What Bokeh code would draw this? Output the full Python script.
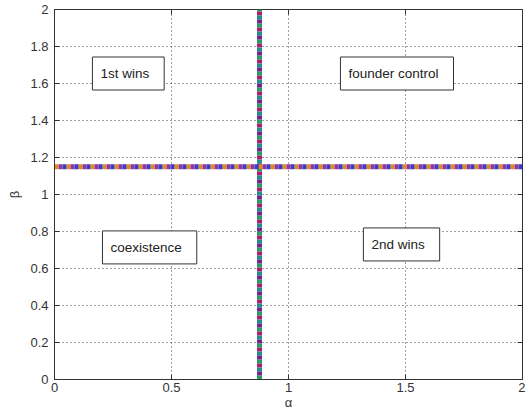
import math
from bokeh.plotting import figure
from bokeh.models import Range1d, FixedTicker, Label
from bokeh.embed import file_html
from bokeh.resources import INLINE

# ---- data ----
alpha_crit = [0.876, 0.876]
beta_span = [0, 2]
beta_crit = [1.15, 1.15]
alpha_span = [0, 2]

x_ticks = [0, 0.5, 1, 1.5, 2]
x_tick_labels = ["0", "0.5", "1", "1.5", "2"]
y_ticks = [0, 0.2, 0.4, 0.6, 0.8, 1.0, 1.2, 1.4, 1.6, 1.8, 2.0]
y_tick_labels = ["0", "0.2", "0.4", "0.6", "0.8", "1", "1.2", "1.4", "1.6", "1.8", "2"]

region_names = ["1st wins", "founder control", "coexistence", "2nd wins"]
region_x = [0.162, 1.222, 0.205, 1.32]
region_y = [1.654, 1.654, 0.714, 0.730]

vert_colors = ["#23a05a", "#b01c6e", "#20908c", "#6a2a8a"]
horiz_colors = ["#e08a20", "#3a3ac8", "#8a3aa0"]

FONT = "Liberation Sans"
AX = "#333333"

p = figure(width=525, height=420, output_backend="svg", toolbar_location=None,
           x_range=Range1d(0, 2), y_range=Range1d(0, 2),
           min_border_left=54, min_border_right=3, min_border_top=9, min_border_bottom=41)
p.background_fill_color = "white"
p.border_fill_color = "white"
p.outline_line_color = AX
p.outline_line_width = 1

for ax, ticks, labels in ((p.xaxis[0], x_ticks, x_tick_labels), (p.yaxis[0], y_ticks, y_tick_labels)):
    ax.ticker = FixedTicker(ticks=ticks)
    ax.major_label_overrides = {t: l for t, l in zip(ticks, labels)}
    ax.major_tick_in = 5
    ax.major_tick_out = 0
    ax.minor_tick_line_color = None
    ax.axis_line_color = AX
    ax.major_tick_line_color = AX
    ax.major_label_text_font = FONT
    ax.major_label_text_font_size = "13px"
    ax.major_label_text_color = AX
    ax.axis_label_text_font = FONT
    ax.axis_label_text_font_size = "13px"
    ax.axis_label_text_font_style = "normal"
    ax.axis_label_text_color = AX

p.xaxis.axis_label = "α"
p.yaxis.axis_label = "β"
p.xaxis.major_label_standoff = 3
p.yaxis.major_label_standoff = 6
p.xaxis.axis_label_standoff = 0
p.yaxis.axis_label_standoff = 5

# mirrored inward ticks on the top and right edges (half of each dash is clipped by the frame)
p.scatter(x_ticks, [y_ticks[-1]] * len(x_ticks), marker="dash", size=10, angle=math.pi / 2,
          line_color=AX, line_width=1)
p.scatter([x_ticks[-1]] * len(y_ticks), y_ticks, marker="dash", size=10,
          line_color=AX, line_width=1)

p.xgrid.ticker = FixedTicker(ticks=x_ticks)
p.ygrid.ticker = FixedTicker(ticks=y_ticks)
for g in (p.xgrid[0], p.ygrid[0]):
    g.grid_line_color = "#000000"
    g.grid_line_alpha = 0.75
    g.grid_line_dash = "1 3"
    g.grid_line_width = 1

# threshold lines built from overlapping coloured dashes
n = len(vert_colors)
for i, c in enumerate(vert_colors):
    p.line(alpha_crit, beta_span, line_color=c, line_width=5,
           line_dash="4 %d" % (4 * (n - 1)), line_dash_offset=4 * i)
n = len(horiz_colors)
for i, c in enumerate(horiz_colors):
    p.line(alpha_span, beta_crit, line_color=c, line_width=5,
           line_dash="4 %d" % (4 * (n - 1)), line_dash_offset=4 * i)

for name, x, y in zip(region_names, region_x, region_y):
    p.add_layout(Label(x=x, y=y, text=name, text_font=FONT, text_font_size="13.5px",
                       text_color="#222222", text_baseline="middle", text_align="left",
                       border_line_color=AX, border_line_width=1,
                       background_fill_color="white",
                       padding=dict(left=8, right=15, top=9, bottom=9)))

open("out.html", "w").write(file_html(p, INLINE))
